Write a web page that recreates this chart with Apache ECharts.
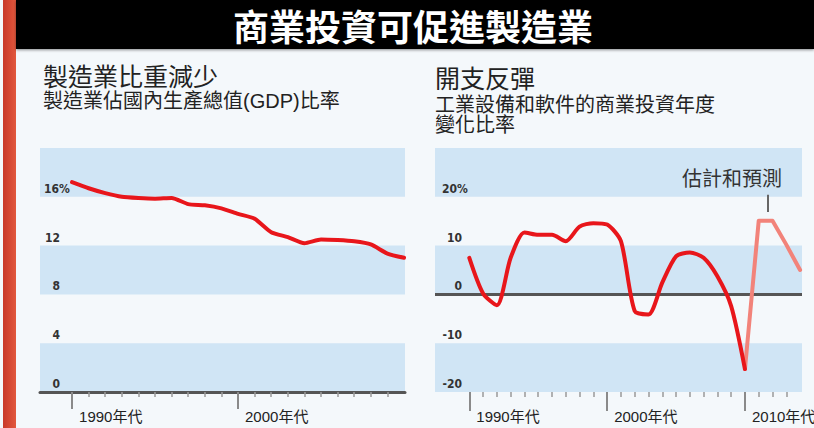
<!DOCTYPE html>
<html><head><meta charset="utf-8">
<script src="https://cdn.jsdelivr.net/npm/echarts@6/dist/echarts.min.js"></script>
<style>html,body{margin:0;padding:0;background:#f4f8fb;overflow:hidden}#c{width:814px;height:428px}</style>
</head><body><div id="c"></div>
<script>
// ---- data ----
const mainTitle = '商業投資可促進製造業';
const leftTitle = '製造業比重減少';
const leftSubtitle = '製造業佔國內生產總值(GDP)比率';
const rightTitle = '開支反彈';
const rightSubtitle = '工業設備和軟件的商業投資年度\n變化比率';
const forecastNote = '估計和預測';

const leftYears  = [1990,1991,1992,1993,1994,1995,1996,1997,1998,1999,2000,2001,2002,2003,2004,2005,2006,2007,2008,2009,2010];
const leftValues = [17.2,16.7,16.3,16.0,15.9,15.85,15.9,15.4,15.3,15.05,14.6,14.2,13.1,12.7,12.2,12.5,12.45,12.35,12.1,11.35,11.0];

const rightYears  = [1990,1991,1992,1993,1994,1995,1996,1997,1998,1999,2000,2001,2002,2003,2004,2005,2006,2007,2008,2009,2010];
const rightValues = [7.5,0.2,-2.2,7.5,12.7,12.2,12.2,10.9,13.9,14.6,14.3,10.9,-3.4,-4.1,2.4,7.8,8.6,7.5,3.7,-2.4,-15.3];

const forecastYears  = [2010,2011,2012,2013,2014];
const forecastValues = [-15.3,15.1,15.1,10.2,5.0];

const leftMajorTicks  = [1990, 2000];
const leftMinorTicks  = [1991,1992,1993,1994,1995,1996,1997,1998,1999,2001,2002,2003,2004,2005,2006,2007,2008,2009];
const rightMajorTicks = [1990, 2000, 2010];
const rightMinorTicks = [1991,1992,1993,1994,1995,1996,1997,1998,1999,2001,2002,2003,2004,2005,2006,2007,2008,2009,2011,2012,2013];

const leftYTicks  = { min: 0, max: 20, interval: 4, pctAt: 16 };
const rightYTicks = { min: -20, max: 30, interval: 10, pctAt: 20 };
const forecastMarkYear = 2011.66;
const forecastMarkRange = [16.9, 20.4];

// ---- styles ----
const CJK = "'Noto Sans CJK TC','Noto Sans CJK SC',sans-serif";
const MIX = "'Liberation Sans',Arial,'Noto Sans CJK TC',sans-serif";
const NUM = "'Liberation Sans Narrow','DejaVu Sans Condensed','Liberation Sans',Arial,sans-serif";
const BAND = '#d0e5f5';
const RED = '#e8161b';
const PINK = '#f2837a';

function zip(xs, ys) { return xs.map((x, i) => [x, ys[i]]); }

function yAxisFor(grid, t, boxW, margin) {
  const numStyle = { fontFamily: NUM, fontWeight: 'bold', fontSize: 12, color: '#333' };
  return {
    gridIndex: grid, type: 'value', min: t.min, max: t.max, interval: t.interval,
    axisLine: { show: false }, axisTick: { show: false },
    splitLine: { show: false },
    splitArea: { show: true, areaStyle: { color: [BAND, 'rgba(0,0,0,0)'] } },
    axisLabel: {
      inside: true, margin: margin, align: 'left', verticalAlign: 'bottom', padding: [0, 0, 2, 0],
      formatter: v => v === t.max ? '' : (v === t.pctAt ? '{q|' + v + '%}' : '{n|' + v + '}'),
      rich: {
        n: Object.assign({ width: boxW, align: 'right' }, numStyle),
        q: Object.assign({}, numStyle)
      }
    }
  };
}

function majorX(grid, min, max, ticks, tickLen, line) {
  return {
    gridIndex: grid, type: 'value', min: min, max: max, position: 'bottom',
    axisLine: line ? { show: true, onZero: false, lineStyle: { color: '#555', width: 3 } } : { show: false, onZero: false },
    splitLine: { show: false },
    axisTick: { show: true, customValues: ticks, length: tickLen, lineStyle: { color: '#8a8a8a', width: 2 } },
    axisLabel: {
      show: true, customValues: ticks, formatter: v => v + '年代',
      align: 'left', padding: [0, 0, 0, 7], margin: 17,
      fontFamily: MIX, fontSize: 15, color: '#222'
    }
  };
}
function minorX(grid, min, max, ticks) {
  return {
    gridIndex: grid, type: 'value', min: min, max: max, position: 'bottom', offset: 0,
    axisLine: { show: false, onZero: false }, splitLine: { show: false },
    axisTick: { show: true, customValues: ticks, length: 5, lineStyle: { color: '#9a9a9a', width: 1.5 } },
    axisLabel: { show: false }
  };
}

const chart = echarts.init(document.getElementById('c'), null, { renderer: 'svg' });
chart.setOption({
  backgroundColor: '#f4f8fb',
  animation: false,
  graphic: [
    { type: 'rect', z: 100, shape: { x: 3, y: 0, width: 13, height: 428 },
      style: { fill: new echarts.graphic.LinearGradient(0, 0, 1, 0, [{ offset: 0, color: '#c8392a' }, { offset: 1, color: '#e2583d' }]) } },
    { type: 'rect', z: 100, shape: { x: 16, y: 0, width: 798, height: 49 },
      style: { fill: '#000', shadowBlur: 3, shadowOffsetY: 1, shadowColor: 'rgba(0,0,0,0.45)' } },
    { type: 'text', z: 101, x: 413, y: 25,
      style: { text: mainTitle, fill: '#fff', font: 'bold 36px ' + CJK, align: 'center', verticalAlign: 'middle' } },
    { type: 'text', z: 101, x: 682, y: 177,
      style: { text: forecastNote, fill: '#333', font: '20px ' + CJK, align: 'left', verticalAlign: 'middle' } }
  ],
  title: [
    { left: 43, top: 62, padding: 0, itemGap: 4, text: leftTitle, subtext: leftSubtitle,
      textStyle: { fontFamily: CJK, fontSize: 25, fontWeight: 'normal', color: '#222' },
      subtextStyle: { fontFamily: MIX, fontSize: 20, color: '#222' } },
    { left: 435, top: 64, padding: 0, itemGap: 6, text: rightTitle, subtext: rightSubtitle,
      textStyle: { fontFamily: CJK, fontSize: 25, fontWeight: 'normal', color: '#222' },
      subtextStyle: { fontFamily: MIX, fontSize: 20, lineHeight: 20, color: '#222' } }
  ],
  grid: [
    { left: 40, right: 409, top: 148, bottom: 36, outerBoundsMode: 'none', containLabel: false },
    { left: 435, right: 12, top: 148, bottom: 36, outerBoundsMode: 'none', containLabel: false }
  ],
  xAxis: [
    majorX(0, 1988.07, 2010.06, leftMajorTicks, 17, true),
    minorX(0, 1988.07, 2010.06, leftMinorTicks),
    majorX(1, 1987.51, 2014.14, rightMajorTicks, 19, false),
    minorX(1, 1987.51, 2014.14, rightMinorTicks)
  ],
  yAxis: [
    yAxisFor(0, leftYTicks, 16, 4),
    Object.assign(yAxisFor(1, rightYTicks, 20, 7), {
      splitLine: { show: true, lineStyle: { width: 3, color: ['rgba(0,0,0,0)', 'rgba(0,0,0,0)', '#555', 'rgba(0,0,0,0)', 'rgba(0,0,0,0)', 'rgba(0,0,0,0)'] } }
    })
  ],
  series: [
    { type: 'line', xAxisIndex: 0, yAxisIndex: 0, data: zip(leftYears, leftValues),
      showSymbol: false, smooth: 0.2, lineStyle: { color: RED, width: 4, cap: 'round', join: 'round' } },
    { type: 'line', xAxisIndex: 2, yAxisIndex: 1, data: zip(forecastYears, forecastValues),
      showSymbol: false, smooth: false, lineStyle: { color: PINK, width: 4, cap: 'round', join: 'round' },
      markLine: { silent: true, symbol: 'none', label: { show: false },
        lineStyle: { color: '#666', width: 2, type: 'solid' },
        data: [[{ coord: [forecastMarkYear, forecastMarkRange[0]] }, { coord: [forecastMarkYear, forecastMarkRange[1]] }]] } },
    { type: 'line', xAxisIndex: 2, yAxisIndex: 1, data: zip(rightYears, rightValues),
      showSymbol: false, smooth: 0.25, lineStyle: { color: RED, width: 4, cap: 'round', join: 'round' } }
  ]
});
</script></body></html>
